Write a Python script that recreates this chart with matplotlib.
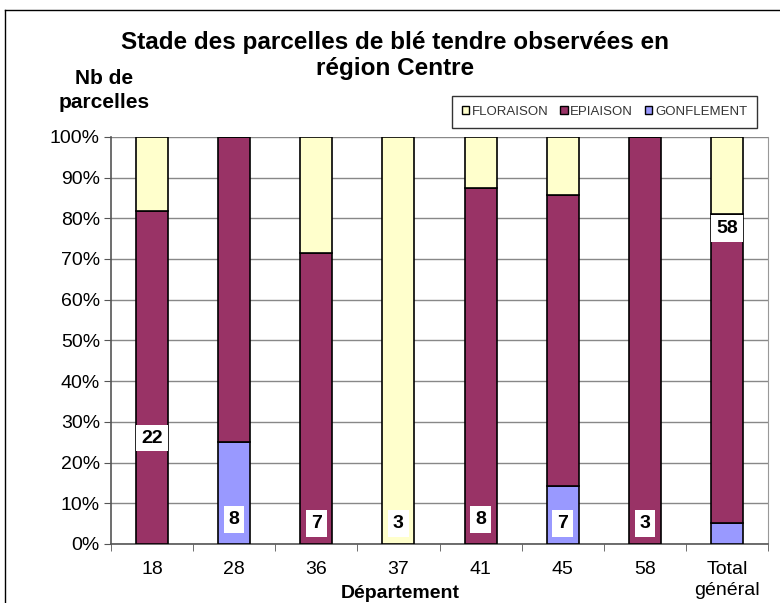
import numpy as np
import matplotlib.pyplot as plt
from matplotlib.patches import Patch
from matplotlib.lines import Line2D

plt.rcParams['font.family'] = ['Liberation Sans', 'DejaVu Sans']

categories = ['18', '28', '36', '37', '41', '45', '58', 'Total\ngénéral']
gonflement = [0, 2, 0, 0, 0, 1, 0, 3]
epiaison = [18, 6, 5, 0, 7, 5, 3, 44]
floraison = [4, 0, 2, 3, 1, 1, 0, 11]
label_pos = [0.26, 0.06, 0.05, 0.05, 0.06, 0.05, 0.05, 0.775]

col_flo = '#FFFFCC'
col_epi = '#993366'
col_gon = '#9999FF'

g = np.array(gonflement, float)
e = np.array(epiaison, float)
f = np.array(floraison, float)
tot = g + e + f
x = np.arange(len(categories))

fig = plt.figure(figsize=(7.8, 6.03), dpi=100)
ax = fig.add_axes([111 / 780, 0.098, 657 / 780, 0.675])

w = 0.39
ax.bar(x, g / tot, w, color=col_gon, edgecolor='black', linewidth=1.2, zorder=3)
ax.bar(x, e / tot, w, bottom=g / tot, color=col_epi, edgecolor='black', linewidth=1.2, zorder=3)
ax.bar(x, f / tot, w, bottom=(g + e) / tot, color=col_flo, edgecolor='black', linewidth=1.2, zorder=3)

for xi, n, yp in zip(x, tot, label_pos):
    ax.text(xi, yp, '%d' % n, ha='center', va='center', fontsize=14, fontweight='bold',
            bbox=dict(facecolor='white', edgecolor='none', pad=3.5), zorder=4)

ax.set_xlim(-0.5, len(categories) - 0.5)
ax.set_ylim(0, 1)
ax.set_yticks(np.arange(0, 1.01, 0.1))
ax.set_yticklabels(['%d%%' % v for v in range(0, 101, 10)], fontsize=14)
ax.yaxis.grid(True, color='#888888', linewidth=1, zorder=0)
ax.set_xticks(x)
ax.set_xticklabels(categories, fontsize=14, linespacing=1.35)
ax.set_xticks(np.arange(-0.5, len(categories), 1), minor=True)
ax.tick_params(axis='x', which='major', length=0, pad=12)
ax.tick_params(axis='x', which='minor', length=5, color='#555555')
ax.tick_params(axis='y', length=5, color='#555555', pad=3)
ax.spines['top'].set_visible(False)
ax.spines['right'].set_color('#999999')
ax.spines['left'].set_color('#555555')
ax.spines['bottom'].set_color('#555555')
ax.spines['left'].set_linewidth(1.2)
ax.spines['bottom'].set_linewidth(1.2)

ax.set_xlabel('Département', fontsize=14, fontweight='bold', labelpad=0)
ax.xaxis.set_label_coords(0.44, -0.101)

fig.text(0.507, 0.908, 'Stade des parcelles de blé tendre observées en\nrégion Centre',
         ha='center', va='center', fontsize=17.5, fontweight='bold', linespacing=1.2)
fig.text(0.133, 0.85, 'Nb de\nparcelles', ha='center', va='center', fontsize=15,
         fontweight='bold', linespacing=1.3)

handles = [Patch(facecolor=col_flo, edgecolor='black'),
           Patch(facecolor=col_epi, edgecolor='black'),
           Patch(facecolor=col_gon, edgecolor='black')]
leg = fig.legend(handles, ['FLORAISON', 'EPIAISON', 'GONFLEMENT'], loc='center',
                 bbox_to_anchor=(604.5 / 780, 1 - 112 / 603), ncol=3, fontsize=9.5, frameon=True,
                 fancybox=False, edgecolor='black', handlelength=0.55, handleheight=0.55,
                 handletextpad=0.2, columnspacing=0.9, borderpad=0.75)
leg.get_frame().set_linewidth(1)
for t in leg.get_texts():
    t.set_color('#333333')

fig.add_artist(Line2D([5 / 780, 5 / 780], [0, 1 - 10 / 603], color='black', lw=1))
fig.add_artist(Line2D([5 / 780, 1], [1 - 10 / 603, 1 - 10 / 603], color='black', lw=1))

fig.savefig('out.png', dpi=100)
